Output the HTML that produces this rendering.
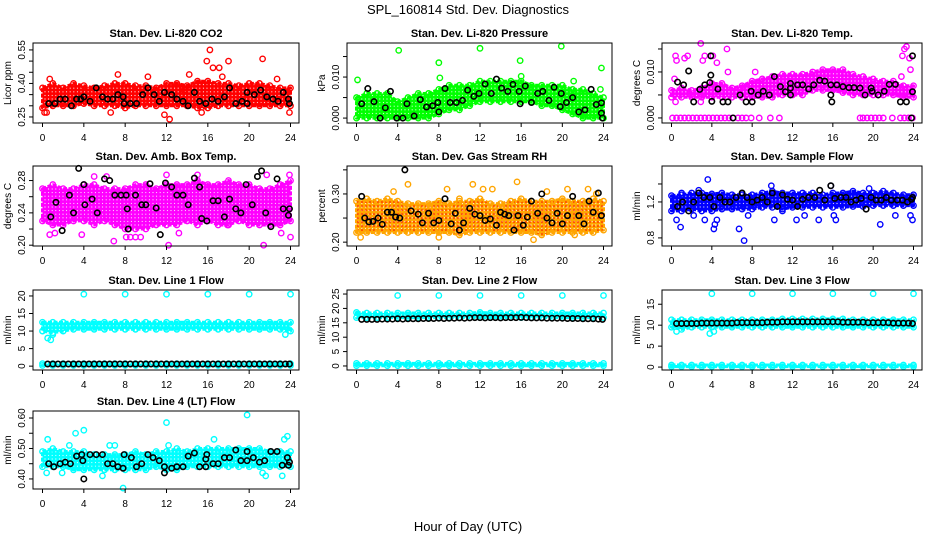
<!DOCTYPE html>
<html><head><meta charset="utf-8"><style>
html,body{margin:0;padding:0;background:#fff;}
svg{display:block;font-family:"Liberation Sans",sans-serif;}
</style></head><body>
<svg id="chart" width="936" height="540" viewBox="0 0 936 540">
<text x="468" y="14" text-anchor="middle" font-size="13">SPL_160814  Std. Dev. Diagnostics</text>
<text x="468" y="531" text-anchor="middle" font-size="13">Hour of Day (UTC)</text>
</svg>
<script>
const hours = [0,1,2,3,4,5,6,7,8,9,10,11,12,13,14,15,16,17,18,19,20,21,22,23,24];
const xTicks = [0,4,8,12,16,20,24];

const co2Lo = [.29,.30,.30,.30,.31,.30,.30,.30,.29,.30,.30,.30,.30,.30,.30,.29,.29,.30,.30,.30,.30,.30,.30,.30,.30];
const co2Hi = [.38,.40,.38,.40,.39,.38,.39,.40,.40,.39,.39,.38,.40,.40,.39,.41,.41,.40,.40,.39,.40,.40,.39,.38,.38];
const co2Out = [[0.2,.27],[0.4,.27],[0.7,.42],[7.3,.44],[6.6,.27],[12.3,.24],[14.2,.44],[15.4,.27],[15.9,.50],[16.2,.55],[16.5,.47],[17.1,.47],[17.4,.43],[18,.50],[21.3,.51],[22.7,.42],[23.9,.27],[11.8,.26],[10.2,.43],[13.7,.37]];
const co2Black = [[0.6,.31],[1.2,.31],[1.7,.33],[2.2,.33],[2.8,.30],[3.3,.33],[3.7,.33],[4,.34],[4.6,.32],[5.2,.38],[5.8,.34],[6.3,.33],[6.8,.33],[7.3,.35],[7.8,.34],[7.9,.31],[8.5,.31],[9.1,.31],[9.7,.35],[10.2,.38],[10.8,.35],[11.3,.32],[11.8,.36],[12.5,.35],[13,.33],[13.6,.32],[14.1,.30],[14.7,.36],[15.2,.32],[15.8,.31],[16.4,.33],[17,.32],[17.6,.34],[18.1,.38],[18.7,.31],[19.3,.32],[19.8,.31],[19.8,.36],[20.5,.35],[21.1,.37],[21.7,.34],[22.3,.33],[22.8,.32],[23.3,.36],[23.8,.33],[23.9,.31]];

const presLo = [0,0,0,0,0,0,0,0,0.001,0.002,0.002,0.003,0.004,0.004,0.004,0.004,0.004,0.004,0.003,0.003,0.002,0.001,0,0,0];
const presHi = [0.005,0.006,0.006,0.006,0.004,0.005,0.006,0.006,0.007,0.008,0.008,0.008,0.009,0.009,0.009,0.009,0.009,0.008,0.008,0.008,0.008,0.007,0.007,0.006,0.005];
const presOut = [[0.1,.0093],[4.1,.0165],[8,.0135],[8.1,.0098],[12,.017],[15.9,.014],[16,.0102],[19.9,.0175],[21.1,.009],[23.8,.0122],[23.7,.007]];
const presBlack = [[0.5,.0035],[1.1,.0072],[1.7,.004],[2.3,0],[2.8,.0025],[3.3,.0065],[3.9,0],[4.5,0],[4.9,.0035],[5.6,.0005],[6.2,.0045],[6.8,.0027],[7.4,.003],[7.9,.0038],[8,.0015],[8.6,.0072],[9.1,.0038],[9.7,.0038],[10.3,.0043],[10.8,.0068],[11.4,.0053],[11.9,.006],[12.5,.0083],[13.1,.006],[13.6,.0095],[14.1,.0073],[14.7,.0065],[15.2,.0082],[15.8,.0065],[15.9,.0035],[16.4,.0078],[17,.0038],[17.6,.006],[18.1,.0065],[18.7,.0043],[19.2,.0075],[19.8,.0028],[19.9,.006],[20.4,.0038],[21,.005],[21.6,.0015],[22.2,.002],[22.8,.007],[23.3,.0033],[23.8,.0037],[23.9,0],[23.8,.0012]];

const tempLo = [.0045,.0045,.0045,.0045,.0045,.0045,.0045,.0045,.0045,.0045,.0045,.005,.005,.005,.006,.006,.006,.0055,.005,.005,.005,.005,.005,.0045,.0045];
const tempHi = [.006,.0065,.006,.0065,.0075,.0075,.0065,.007,.008,.0085,.009,.0095,.0095,.0095,.01,.0105,.0105,.0105,.0095,.009,.0085,.008,.008,.007,.007];
const tempOut = [[0.4,.0135],[0.5,.0125],[1.3,.013],[1.6,.0135],[2.9,.0162],[3.3,.0135],[3.1,.0125],[4.1,.0135],[4.5,.012],[5.5,.015],[5.6,.01],[0.3,.0085],[0.4,.0035],[2.9,.0035],[22.9,.0135],[23.1,.015],[23.3,.0155],[23.6,.013],[23.7,.0105],[22.8,.009],[8.3,.01],
 [0.1,0],[0.5,0],[0.9,0],[1.3,0],[1.7,0],[2.1,0],[2.5,0],[2.9,0],[3.3,0],[3.7,0],[4.1,0],[4.5,0],[4.9,0],[5.3,0],[5.7,0],[6.1,0],[6.6,0],[7,0],[7.4,0],[7.9,0],[8.7,0],[9.8,0],[10.7,0],[18.7,0],[19,0],[19.4,0],[19.8,0],[20.2,0],[20.6,0],[21,0],[21.9,0],[22.7,0],[23.1,0],[23.5,0],[23.9,0]];
const tempBlack = [[0.6,.0078],[1.2,.0072],[1.7,.0102],[2.2,.0035],[2.8,.0062],[3.3,.0072],[3.8,.0077],[3.9,.0093],[3.9,.0135],[4,.0036],[4.6,.0063],[5.1,.0035],[5.6,.0035],[6.1,0],[6.8,.005],[7.4,.0035],[7.9,.0058],[8,.0035],[8.6,.005],[9.1,.0058],[9.7,.005],[10.2,.009],[10.8,.0068],[11.3,.0057],[11.8,.0065],[11.8,.0075],[11.8,.005],[12.5,.0072],[13.0,.0072],[13.6,.0063],[14.1,.0072],[14.7,.0082],[15.2,.008],[15.8,.0072],[15.8,.005],[15.9,.0035],[16.4,.0072],[17,.0068],[17.6,.0066],[18.1,.0066],[18.7,.0065],[19.2,.005],[19.8,.0065],[19.9,.0058],[20.5,.005],[21.1,.0058],[21.6,.0073],[22.2,.0073],[22.7,.0035],[23.3,.0035],[23.8,0],[23.9,.0057],[23.9,.0135]];

const ambLo = [.23,.225,.225,.23,.23,.225,.23,.225,.22,.22,.22,.225,.225,.225,.23,.225,.23,.225,.225,.23,.225,.225,.225,.225,.23];
const ambHi = [.27,.275,.27,.27,.275,.275,.27,.27,.27,.275,.275,.27,.275,.275,.275,.28,.275,.275,.28,.275,.275,.27,.27,.275,.28];
const ambOut = [[0.7,.213],[1.2,.215],[3.8,.213],[6.9,.205],[8.1,.21],[8.5,.21],[9,.21],[9.5,.21],[12.2,.2],[13.2,.215],[17.9,.225],[21.4,.2],[23.1,.215],[24,.21],[23.9,.287],[21.7,.287],[15,.287],[5,.285],[6.2,.285],[12,.287]];
const ambBlack = [[0.8,.235],[1.3,.253],[1.9,.218],[2.6,.262],[3,.24],[3.5,.295],[4,.275],[4.1,.25],[4.8,.257],[5.3,.24],[6,.282],[6.5,.28],[7,.262],[7.6,.262],[8.1,.262],[8.2,.245],[8.3,.22],[9,.262],[9.6,.25],[10,.25],[10.4,.276],[11,.246],[11.4,.213],[11.9,.277],[12.5,.272],[13,.262],[13.6,.262],[14.1,.25],[14.7,.283],[15.2,.272],[15.4,.233],[15.9,.23],[16.5,.255],[17,.255],[17.6,.235],[18.1,.257],[18.7,.245],[19.2,.24],[19.7,.275],[20.3,.25],[20.8,.285],[21.2,.292],[21.6,.24],[22.1,.223],[22.7,.282],[23.3,.245],[23.9,.245],[23.8,.237]];

const rhLo = [.22,.22,.22,.22,.22,.22,.22,.22,.22,.22,.215,.22,.22,.22,.22,.22,.22,.22,.215,.22,.22,.22,.22,.22,.225];
const rhHi = [.285,.29,.285,.29,.285,.28,.28,.28,.285,.28,.285,.285,.29,.28,.28,.285,.29,.285,.285,.285,.29,.285,.285,.29,.285];
const rhOut = [[0.4,.21],[5,.32],[3.6,.305],[8,.21],[8.8,.31],[10,.29],[11.3,.32],[12.3,.31],[13.2,.31],[15.6,.325],[17.2,.205],[18.5,.305],[20.5,.31],[21.2,.215],[22.5,.31],[23.3,.3]];
const rhBlack = [[0.5,.295],[0.8,.25],[1.2,.242],[1.6,.243],[2.1,.25],[2.5,.237],[3,.262],[3.4,.262],[3.8,.252],[4.2,.25],[4.7,.35],[5.3,.265],[6,.258],[6.4,.24],[7,.26],[7.5,.24],[8,.245],[8.6,.29],[9.2,.238],[10,.225],[9.6,.26],[10.4,.24],[11,.27],[11.5,.258],[12,.255],[12.5,.245],[13,.248],[13.6,.235],[14,.262],[14.4,.258],[14.8,.255],[15.3,.225],[15.7,.255],[16.2,.235],[16.6,.252],[17,.285],[17.6,.26],[18,.3],[18.5,.25],[19,.24],[19.5,.26],[20,.238],[20.5,.255],[21,.295],[21.6,.255],[22.1,.238],[22.6,.285],[23,.262],[23.5,.302],[23.8,.255]];

const flowLo = [1.1,1.1,1.12,1.1,1.1,1.12,1.12,1.12,1.12,1.14,1.14,1.12,1.14,1.14,1.14,1.14,1.14,1.14,1.15,1.15,1.16,1.16,1.16,1.16,1.16];
const flowHi = [1.27,1.28,1.3,1.3,1.29,1.3,1.28,1.28,1.28,1.3,1.32,1.3,1.3,1.3,1.3,1.28,1.3,1.3,1.32,1.3,1.3,1.32,1.3,1.28,1.28];
const flowOut = [[0.5,1.0],[0.9,0.92],[1,1.3],[2.2,1.05],[2.7,1.33],[3.3,1.0],[3.6,1.45],[4.2,0.9],[4.3,0.95],[4.5,1.0],[6.7,0.9],[7.2,0.77],[7.6,1.05],[8.5,1.2],[9.9,1.38],[10.2,1.0],[11,1.1],[12.4,1.0],[13.2,1.05],[14.6,1.0],[15.8,1.38],[16.1,1.05],[16.3,1.0],[19.6,1.35],[20.7,0.95],[22.2,1.05],[23.7,1.05],[23.9,1.0]];
const flowBlack = [[0.6,1.15],[1.1,1.2],[1.7,1.1],[2.2,1.2],[2.7,1.3],[3.2,1.25],[3.8,1.25],[4.2,1.15],[4.8,1.25],[5.3,1.2],[5.8,1.2],[6.4,1.25],[7,1.3],[7.5,1.25],[8,1.2],[8.5,1.22],[9,1.25],[9.5,1.2],[10,1.3],[10.5,1.15],[11,1.28],[11.5,1.23],[12,1.22],[12.5,1.15],[13,1.23],[13.6,1.25],[14.2,1.25],[14.7,1.33],[15.2,1.22],[15.8,1.38],[16.2,1.24],[16.8,1.25],[17.3,1.25],[17.8,1.2],[18.3,1.22],[18.8,1.24],[19.3,1.12],[19.8,1.25],[20.3,1.22],[20.8,1.22],[21.3,1.25],[21.8,1.22],[22.4,1.22],[22.9,1.22],[23.4,1.2],[23.8,1.23],[23.9,1.25]];

const l1Lo = [10,9.5,10,10.5,10.5,10.5,10.5,10.5,10.5,10.5,10.5,10.5,10.5,10.5,10.5,10.5,10.5,10.5,10.5,10.5,10.5,10.5,10.5,10.5,10];
const l1Hi = [12.5,12.5,12.5,12.5,12.5,12.5,12.5,12.5,12.5,12.5,12.5,12.5,12.5,12.5,12.5,12.5,12.5,12.5,12.5,12.5,12.5,12.5,12.5,12.5,12.5];
const l1BaseLo = [0.2,0.2,0.2,0.2,0.2,0.2,0.2,0.2,0.2,0.2,0.2,0.2,0.2,0.2,0.2,0.2,0.2,0.2,0.2,0.2,0.2,0.2,0.2,0.2,0.2];
const l1BaseHi = [0.7,0.7,0.7,0.7,0.7,0.7,0.7,0.7,0.7,0.7,0.7,0.7,0.7,0.7,0.7,0.7,0.7,0.7,0.7,0.7,0.7,0.7,0.7,0.7,0.7];
const l1Out = [[4,20.5],[8,20.5],[12,20.5],[16,20.5],[20,20.5],[24,20.5],[0.5,8],[0.8,7.5],[1,9],[23.5,9]];
const l1Black = [[0.5,.6],[1,.6],[1.5,.6],[2,.6],[2.5,.6],[3,.6],[3.5,.6],[4,.6],[4.5,.6],[5,.6],[5.5,.6],[6,.6],[6.5,.6],[7,.6],[7.5,.6],[8,.6],[8.5,.6],[9,.6],[9.5,.6],[10,.6],[10.5,.6],[11,.6],[11.5,.6],[12,.6],[12.5,.6],[13,.6],[13.5,.6],[14,.6],[14.5,.6],[15,.6],[15.5,.6],[16,.6],[16.5,.6],[17,.6],[17.5,.6],[18,.6],[18.5,.6],[19,.6],[19.5,.6],[20,.6],[20.5,.6],[21,.6],[21.5,.6],[22,.6],[22.5,.6],[23,.6],[23.5,.6],[23.9,.6]];

const l2Lo = [16.8,16.8,16.8,16.8,16.8,16.8,16.8,16.8,16.8,16.8,16.8,16.8,16.8,16.8,16.8,16.8,16.8,16.8,16.8,16.8,16.8,16.8,16.8,16.8,16.8];
const l2Hi = [18.6,18.4,18.4,18.4,18.4,18.4,18.4,18.4,18.4,18.4,18.4,18.4,18.6,18.4,18.4,18.4,18.4,18.4,18.4,18.4,18.4,18.4,18.4,18.4,18.4];
const l2BaseLo = [0.1,0.1,0.1,0.1,0.1,0.1,0.1,0.1,0.1,0.1,0.1,0.1,0.1,0.1,0.1,0.1,0.1,0.1,0.1,0.1,0.1,0.1,0.1,0.1,0.1];
const l2BaseHi = [0.9,0.9,0.9,0.9,0.9,0.9,0.9,0.9,0.9,0.9,0.9,0.9,0.9,0.9,0.9,0.9,0.9,0.9,0.9,0.9,0.9,0.9,0.9,0.9,0.9];
const l2Out = [[4,24.5],[8,24.5],[12,24.5],[16,24.5],[20,24.5],[24,24.5]];
const l2Black = [[0.5,16.2],[1,16.2],[1.5,16.2],[2,16.2],[2.5,16.3],[3,16.3],[3.5,16.3],[4,16.4],[4.5,16.3],[5,16.4],[5.5,16.4],[6,16.4],[6.5,16.5],[7,16.5],[7.5,16.5],[8,16.6],[8.5,16.5],[9,16.6],[9.5,16.6],[10,16.7],[10.5,16.6],[11,16.7],[11.5,16.8],[12,16.8],[12.5,16.7],[13,16.8],[13.5,16.8],[14,16.7],[14.5,16.8],[15,16.8],[15.5,16.8],[16,16.9],[16.5,16.8],[17,16.7],[17.5,16.7],[18,16.7],[18.5,16.6],[19,16.6],[19.5,16.6],[20,16.6],[20.5,16.5],[21,16.5],[21.5,16.5],[22,16.4],[22.5,16.4],[23,16.4],[23.5,16.3],[23.9,16.2]];

const l3Lo = [9.5,9,9.5,9.5,9.5,9.5,9.5,9.5,9.5,9.5,9.5,9.5,9.5,9.5,9.5,9.5,9.5,9.5,9.5,9.5,9.5,9.5,9.5,9.5,9.5];
const l3Hi = [11.3,11.3,11.3,11.3,11.3,11.3,11.3,11.3,11.3,11.3,11.3,11.5,11.5,11.5,11.5,11.5,11.5,11.5,11.3,11.3,11.3,11.3,11.3,11.3,11.3];
const l3BaseLo = [0.1,0.1,0.1,0.1,0.1,0.1,0.1,0.1,0.1,0.1,0.1,0.1,0.1,0.1,0.1,0.1,0.1,0.1,0.1,0.1,0.1,0.1,0.1,0.1,0.1];
const l3BaseHi = [0.5,0.5,0.5,0.5,0.5,0.5,0.5,0.5,0.5,0.5,0.5,0.5,0.5,0.5,0.5,0.5,0.5,0.5,0.5,0.5,0.5,0.5,0.5,0.5,0.5];
const l3Out = [[4,17.5],[8,17.5],[12,17.5],[16,17.5],[20,17.5],[24,17.5],[0.5,8.5],[3.8,8],[4.2,8.5]];
const l3Black = [[0.5,10.4],[1,10.4],[1.5,10.4],[2,10.4],[2.5,10.4],[3,10.5],[3.5,10.5],[4,10.5],[4.5,10.5],[5,10.5],[5.5,10.5],[6,10.5],[6.5,10.6],[7,10.6],[7.5,10.6],[8,10.6],[8.5,10.6],[9,10.6],[9.5,10.7],[10,10.7],[10.5,10.7],[11,10.8],[11.5,10.8],[12,10.8],[12.5,10.8],[13,10.8],[13.5,10.8],[14,10.8],[14.5,10.8],[15,10.8],[15.5,10.8],[16,10.8],[16.5,10.8],[17,10.7],[17.5,10.7],[18,10.7],[18.5,10.7],[19,10.7],[19.5,10.6],[20,10.6],[20.5,10.6],[21,10.6],[21.5,10.6],[22,10.5],[22.5,10.5],[23,10.5],[23.5,10.5],[23.9,10.4]];

const l4Lo = [.44,.44,.44,.43,.43,.43,.43,.43,.43,.43,.43,.44,.43,.43,.44,.44,.44,.44,.44,.44,.44,.44,.44,.44,.44];
const l4Hi = [.49,.50,.49,.49,.49,.48,.48,.48,.48,.49,.48,.49,.49,.50,.49,.50,.50,.50,.50,.50,.50,.50,.49,.49,.49];
const l4Out = [[0.4,.42],[0.5,.53],[2.6,.51],[3.2,.55],[4,.56],[5.8,.41],[6.5,.51],[7,.51],[7.8,.37],[12,.585],[12.2,.51],[16.6,.53],[19.8,.61],[21.3,.42],[21.6,.41],[23.2,.41],[23.4,.53],[23.7,.54],[1.9,.42]];
const l4Black = [[0.6,.45],[1.1,.44],[1.7,.45],[2.2,.455],[2.7,.45],[3.3,.475],[3.8,.48],[3.9,.46],[4,.40],[4.6,.48],[5.2,.48],[5.8,.48],[6.3,.45],[6.8,.45],[7.3,.44],[7.8,.435],[7.9,.48],[8.6,.47],[9.1,.44],[9.6,.45],[10.2,.48],[10.7,.47],[11.3,.46],[11.8,.42],[11.8,.44],[12.5,.435],[13,.44],[13.6,.44],[14.1,.475],[14.7,.485],[15.2,.44],[15.8,.44],[15.8,.465],[15.9,.48],[16.5,.45],[17,.45],[17.6,.47],[18.1,.47],[18.7,.495],[19.2,.46],[19.8,.46],[19.8,.49],[20.4,.47],[21,.455],[21.5,.46],[22.1,.49],[22.7,.49],[23.2,.445],[23.7,.47],[23.8,.445],[23.9,.455]];

const panelTitles = ["Stan. Dev. Li-820 CO2","Stan. Dev. Li-820 Pressure","Stan. Dev. Li-820 Temp.","Stan. Dev. Amb. Box Temp.","Stan. Dev. Gas Stream RH","Stan. Dev. Sample Flow","Stan. Dev. Line 1 Flow","Stan. Dev. Line 2 Flow","Stan. Dev. Line 3 Flow","Stan. Dev. Line 4 (LT) Flow"];
const yTitles = ["Licor ppm","kPa","degrees C","degrees C","percent","ml/min","ml/min","ml/min","ml/min","ml/min"];
const yTickVals = [[.25,.30,.35,.40,.45,.50,.55],[0,.005,.01,.015],[0,.005,.01,.015],[.20,.22,.24,.26,.28],[.20,.25,.30,.35],[.8,1.0,1.2,1.4],[0,5,10,15,20],[0,5,10,15,20,25],[0,5,10,15],[.40,.45,.50,.55,.60]];
const yTickLabels = [["0.25","","","0.40","","","0.55"],["0.000","","0.010",""],["0.000","","0.010",""],["0.20","","0.24","","0.28"],["0.20","","0.30",""],["0.8","","1.2",""],["0","5","10","15","20"],["0","5","10","15","20","25"],["0","5","10","15"],["0.40","","0.50","","0.60"]];

const NS = "http://www.w3.org/2000/svg";
const svg = document.getElementById('chart');
const colLeft = [33,347,662], colRight = [299,612,922];
const rowTop = [43,166,290,411], rowBot = [123,246,370,489];
const ylims = [[0.223,0.581],[-0.0012,0.0183],[-0.0011,0.0163],[0.199,0.298],[0.192,0.358],[0.71,1.6],[-1.1,21.7],[-1.4,26.4],[-0.7,18.4],[0.367,0.623]];
const colors = ["#ff0000","#00ff00","#ff00ff","#ff00ff","#ffa500","#0000ff","#00ffff","#00ffff","#00ffff","#00ffff"];
const panels = [
 {bands:[[co2Lo,co2Hi]],out:co2Out,blk:co2Black},
 {bands:[[presLo,presHi]],out:presOut,blk:presBlack},
 {bands:[[tempLo,tempHi]],out:tempOut,blk:tempBlack},
 {bands:[[ambLo,ambHi]],out:ambOut,blk:ambBlack},
 {bands:[[rhLo,rhHi]],out:rhOut,blk:rhBlack},
 {bands:[[flowLo,flowHi]],out:flowOut,blk:flowBlack},
 {bands:[[l1Lo,l1Hi],[l1BaseLo,l1BaseHi]],out:l1Out,blk:l1Black},
 {bands:[[l2Lo,l2Hi],[l2BaseLo,l2BaseHi]],out:l2Out,blk:l2Black},
 {bands:[[l3Lo,l3Hi],[l3BaseLo,l3BaseHi]],out:l3Out,blk:l3Black},
 {bands:[[l4Lo,l4Hi]],out:l4Out,blk:l4Black}
];
function mk(tag, attrs, parent){const e=document.createElementNS(NS,tag);for(const k in attrs)e.setAttribute(k,attrs[k]);(parent||svg).appendChild(e);return e;}

const defs=mk('defs',{});
const patIds={};
colors.forEach((col,i)=>{
  if(patIds[col]) return;
  const id='ring'+i;
  patIds[col]=id;
  const pat=mk('pattern',{id:id,width:3.6,height:3.6,patternUnits:'userSpaceOnUse'},defs);
  mk('rect',{x:0,y:0,width:3.6,height:3.6,fill:col},pat);
  mk('circle',{cx:1.8,cy:1.8,r:0.55,fill:'#fff'},pat);
});
const rhPat=mk('pattern',{id:'rhdots',width:4,height:4,patternUnits:'userSpaceOnUse'},defs);
mk('circle',{cx:2,cy:2,r:0.8,fill:'#ff0000'},rhPat);

panels.forEach((p,i)=>{
  const c=i%3, r=Math.floor(i/3);
  const L=colLeft[c], R=colRight[c], T=rowTop[r], B=rowBot[r];
  const x0=L+9.5, x1=R-8.5;
  const xs=h=>x0+(x1-x0)*h/24;
  const [lo,hi]=ylims[i];
  const ys=v=>B-(B-T)*(v-lo)/(hi-lo);
  const g=mk('g',{});
  
  
  const col=colors[i];
  p.bands.forEach((b,bi)=>{
    let d='';
    hours.forEach((h,k)=>{d+=(k?'L':'M')+xs(h).toFixed(1)+','+ys(b[1][k]).toFixed(1);});
    for(let k=hours.length-1;k>=0;k--) d+='L'+xs(hours[k]).toFixed(1)+','+ys(b[0][k]).toFixed(1);
    const pa=mk('path',{d:d+'Z',fill:'url(#'+patIds[col]+')',stroke:col,'stroke-width':3,'stroke-linejoin':'round','stroke-dasharray':'4 1.5'},g);
    
    
    if(i===4){
      const pr=mk('path',{d:d+'Z',fill:'url(#rhdots)',stroke:'none'},g);
      
      
    }
    hours.forEach((h,k)=>{
      [b[0][k],b[1][k]].forEach(v=>{
        const ci=mk('circle',{cx:xs(h),cy:ys(v),r:2.7,fill:'none',stroke:col,'stroke-width':1.4},g);
        
        
      });
    });
  });
  p.out.forEach(pt=>{
    const ci=mk('circle',{cx:xs(pt[0]),cy:ys(pt[1]),r:2.7,fill:'none',stroke:col,'stroke-width':1.4},g);
    
    
  });
  p.blk.forEach(pt=>{
    const ci=mk('circle',{cx:xs(pt[0]),cy:ys(pt[1]),r:2.7,fill:'none',stroke:'#000','stroke-width':1.6},g);
    
    
  });
  const box=mk('rect',{x:L,y:T,width:R-L,height:B-T,fill:'none',stroke:'#000','stroke-width':1},g);
  
  
  const tt=mk('text',{x:(L+R)/2,y:T-6,'text-anchor':'middle','font-size':11,'font-weight':'bold'},g);
  tt.textContent=panelTitles[i];
  
  
  mk('line',{x1:xs(0),x2:xs(24),y1:B,y2:B,stroke:'#000'},g);
  xTicks.forEach(t=>{
    mk('line',{x1:xs(t),x2:xs(t),y1:B,y2:B+4,stroke:'#000'},g);
    const tx=mk('text',{x:xs(t),y:B+18,'text-anchor':'middle','font-size':10},g);
    tx.textContent=t;
    
    
  });
  const tv=yTickVals[i];
  mk('line',{x1:L,x2:L,y1:ys(tv[0]),y2:ys(tv[tv.length-1]),stroke:'#000'},g);
  tv.forEach((v,k)=>{
    mk('line',{x1:L-4,x2:L,y1:ys(v),y2:ys(v),stroke:'#000'},g);
    const lab=yTickLabels[i][k];
    if(lab){
      const tx=mk('text',{x:0,y:0,'text-anchor':'middle','font-size':10,transform:`translate(${L-8},${ys(v)}) rotate(-90)`},g);
      tx.textContent=lab;
      
      
    }
  });
  const yt=mk('text',{x:0,y:0,'text-anchor':'middle','font-size':10,transform:`translate(${L-22},${(T+B)/2}) rotate(-90)`},g);
  yt.textContent=yTitles[i];
  
  
});
</script>
</body></html>
